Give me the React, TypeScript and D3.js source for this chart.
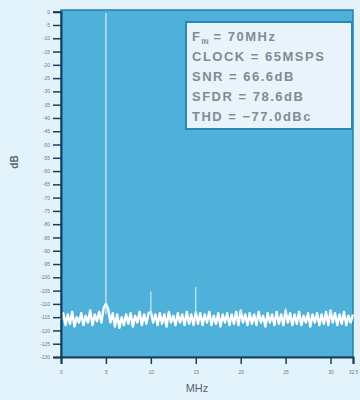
import * as d3 from "d3";
import { useEffect, useRef } from "react";

// noise floor, one value every 0.25 MHz from 0 to 32.5 MHz (dB)
const noiseDb = [
  -116, -113.5, -118, -114, -117.5, -113, -118.5, -115, -117, -113.5,
  -118, -114.5, -117, -112.5, -118, -114, -116.5, -113, -117, -111.5,
  -110,
  -112, -117, -113.5, -118.5, -114, -119, -115, -118, -114, -117.5,
  -113.5, -118.5, -114.5, -117, -113, -118, -114, -117.5, -113.5,
  -113,
  -117, -114, -118, -113.5, -117.5, -114, -118.5, -113, -117, -114.5,
  -118, -113.5, -117, -114, -118, -113, -117.5, -114, -118,
  -113,
  -117.5, -113.5, -118, -114, -117, -113, -118, -114.5, -117.5, -113.5,
  -118.5, -114, -117, -113.5, -118, -114, -117.5, -113, -118,
  -112.5,
  -117, -114, -118, -113.5, -117.5, -114, -118, -113, -117, -114.5,
  -118.5, -113.5, -117, -114, -118, -113, -117.5, -114, -118,
  -112.5,
  -117, -113.5, -118, -114, -117.5, -113, -118, -114.5, -117, -113.5,
  -118.5, -114, -117, -113.5, -118, -114, -117.5, -113, -118,
  -112.5,
  -117, -113.5, -118, -114, -117.5, -113, -118, -114.5, -117, -114,
];
const noiseStepMHz = 0.25;

// fundamental and spurs
const spurMHz = [5, 10, 15, 20, 25, 30];
const spurDb = [-0.5, -105.2, -103.6, -112.2, -111.5, -112.5];

const yTicks = d3.range(0, -131, -5);
const xTicks = [0, 5, 10, 15, 20, 25, 30, 32.5];

const infoLines = [
  { main: "F", sub: "IN", rest: " = 70MHz" },
  { main: "CLOCK = 65MSPS", sub: "", rest: "" },
  { main: "SNR = 66.6dB", sub: "", rest: "" },
  { main: "SFDR = 78.6dB", sub: "", rest: "" },
  { main: "THD = \u221277.0dBc", sub: "", rest: "" },
];

export default function App() {
  const svgRef = useRef<SVGSVGElement>(null);

  useEffect(() => {
    const svg = d3.select(svgRef.current);
    svg.selectAll("*").remove();

    const width = 360;
    const height = 400;
    const left = 61, right = 353, top = 10, bottom = 357;
    const font = "'Liberation Sans', Arial, sans-serif";

    const x = d3.scaleLinear().domain([0, 32.5]).range([left, right]);
    const y = d3.scaleLinear().domain([0, -130]).range([11.7, bottom]);

    svg.append("rect").attr("width", width).attr("height", height).attr("fill", "#e3f3fb");

    // plot area
    svg.append("rect")
      .attr("x", left).attr("y", top)
      .attr("width", right - left).attr("height", bottom - top)
      .attr("fill", "#4fb0da")
      .attr("stroke", "#2a7ea9")
      .attr("stroke-width", 1.5);

    // spectrum noise floor
    const pts = noiseDb.map((v, i) => [i * noiseStepMHz, v] as [number, number]);
    const line = d3.line<[number, number]>().x(d => x(d[0])).y(d => y(d[1]));
    svg.append("path")
      .datum(pts)
      .attr("fill", "none")
      .attr("stroke", "#ffffff")
      .attr("stroke-width", 2.4)
      .attr("stroke-linejoin", "round")
      .attr("d", line);

    // spurs
    svg.selectAll(".spur")
      .data(spurMHz)
      .enter()
      .append("line")
      .attr("x1", d => x(d)).attr("x2", d => x(d))
      .attr("y1", y(-114))
      .attr("y2", (d, i) => y(spurDb[i]))
      .attr("stroke", (d, i) => (i === 0 ? "#cdeaf6" : "#bfe4f4"))
      .attr("stroke-width", 1.3);

    // y axis
    const yAxis = svg.append("g")
      .attr("transform", `translate(${left},0)`)
      .call(d3.axisLeft(y).tickValues(yTicks).tickSize(8).tickPadding(3).tickFormat(d => String(d)));
    yAxis.select(".domain").attr("stroke", "#173f5a").attr("stroke-width", 2);
    yAxis.selectAll(".tick line").attr("stroke", "#173f5a").attr("stroke-width", 1.5);
    yAxis.selectAll(".tick text")
      .attr("fill", "#6c7a84")
      .style("font-family", font)
      .style("font-size", "5px");

    // x axis
    const xAxis = svg.append("g")
      .attr("transform", `translate(0,${bottom})`)
      .call(d3.axisBottom(x).tickValues(xTicks).tickSize(7).tickPadding(6).tickFormat(d => String(d)));
    xAxis.select(".domain").attr("stroke", "#173f5a").attr("stroke-width", 2);
    xAxis.selectAll(".tick line").attr("stroke", "#173f5a").attr("stroke-width", 1.5);
    xAxis.selectAll(".tick text")
      .attr("fill", "#6c7a84")
      .style("font-family", font)
      .style("font-size", "5px");

    // axis titles
    svg.append("text")
      .attr("transform", "translate(18,162) rotate(-90)")
      .attr("text-anchor", "middle")
      .attr("fill", "#55646e")
      .style("font-family", font)
      .style("font-size", "10px")
      .style("font-weight", "bold")
      .text("dB");

    svg.append("text")
      .attr("x", 197).attr("y", 392)
      .attr("text-anchor", "middle")
      .attr("fill", "#55646e")
      .style("font-family", font)
      .style("font-size", "11px")
      .text("MHz");

    // info box
    svg.append("rect")
      .attr("x", 186).attr("y", 22)
      .attr("width", 166).attr("height", 107)
      .attr("fill", "#e8f4fa")
      .attr("stroke", "#2b87b6")
      .attr("stroke-width", 2);

    const info = svg.append("g")
      .style("font-family", font)
      .style("font-size", "13px")
      .style("font-weight", "bold")
      .style("letter-spacing", "1.5px")
      .attr("fill", "#7d8c96");
    infoLines.forEach((l, i) => {
      const t = info.append("text").attr("x", 192).attr("y", 41 + i * 20);
      t.append("tspan").text(l.main);
      if (l.sub) {
        t.append("tspan").attr("dy", 3).style("font-size", "7px").style("letter-spacing", "0px").text(l.sub);
        t.append("tspan").attr("dy", -3).text(l.rest);
      }
    });
  }, []);

  return (
    <div style={{ position: "fixed", left: 0, top: 0 }}>
      <svg ref={svgRef} width={360} height={400} style={{ display: "block" }} />
    </div>
  );
}
